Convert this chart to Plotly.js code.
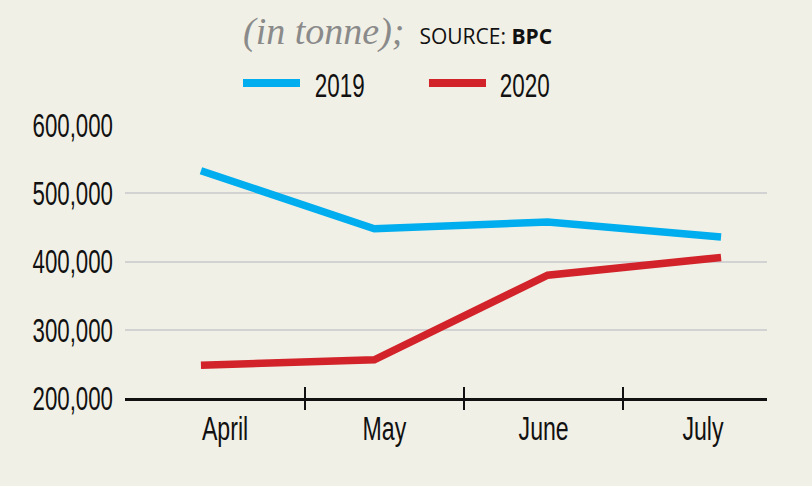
<!DOCTYPE html>
<html>
<head>
<meta charset="utf-8">
<script src="https://cdn.plot.ly/plotly-3.0.1.min.js"></script>
<style>html,body{margin:0;padding:0;background:#f1f0e6;}</style>
</head>
<body>
<div id="chart" style="width:812px;height:486px;"></div>
<script>
const months = ["April", "May", "June", "July"];
const sales2019 = [533000, 448000, 458000, 436000];
const sales2020 = [248000, 256000, 380000, 406000];
const yTicks = [200000, 300000, 400000, 500000, 600000];
const yTickText = ["200,000", "300,000", "400,000", "500,000", "600,000"];
const seriesNames = ["2019", "2020"];
const seriesColors = ["#00aeef", "#d2232a"];

const FONT = "Liberation Sans, Arial, sans-serif";
const FS = 34;
const monthPos = months.map((m, i) => i);
const boundaryPos = months.slice(1).map((m, i) => i + 0.5);
const labelRange = [-0.628, 3.402];

const traces = [
  {x: months, y: sales2019, name: seriesNames[0], type: "scatter", mode: "lines",
   xaxis: "x4", yaxis: "y", line: {color: seriesColors[0], width: 7.5}, showlegend: false},
  {x: months, y: sales2020, name: seriesNames[1], type: "scatter", mode: "lines",
   xaxis: "x4", yaxis: "y", line: {color: seriesColors[1], width: 7.5}, showlegend: false},
  {x: [0], y: [null], xaxis: "x", yaxis: "y", showlegend: false, hoverinfo: "skip", mode: "lines"},
  {x: [0], y: [null], xaxis: "x2", yaxis: "y", showlegend: false, hoverinfo: "skip", mode: "lines"},
  {x: [0], y: [null], xaxis: "x3", yaxis: "y", showlegend: false, hoverinfo: "skip", mode: "lines"}
];

// custom legend (long line keys like the reference)
const legendKeyX = [[0.1838, 0.2726], [0.4735, 0.5623]];
const legendTextX = [0.3349, 0.6238];
const shapes = seriesNames.map((n, i) => ({
  type: "line", xref: "paper", yref: "paper", x0: legendKeyX[i][0], x1: legendKeyX[i][1],
  y0: 1.154, y1: 1.154, line: {color: seriesColors[i], width: 8}
}));
const annotations = seriesNames.map((n, i) => ({
  text: n, xref: "paper", yref: "paper", x: legendTextX[i], y: 1.147,
  xanchor: "center", yanchor: "middle", showarrow: false,
  font: {family: FONT, size: FS, color: "#111"}
}));

const layout = {
  width: 812, height: 486,
  paper_bgcolor: "#f1f0e6", plot_bgcolor: "#f1f0e6",
  margin: {l: 125, r: 45, t: 125, b: 88},
  showlegend: false,
  shapes: shapes,
  annotations: annotations,
  title: {
    text: '<i>(in tonne); </i><span style="font-family:Open Sans, Noto Sans, sans-serif;font-size:21px;font-style:normal;color:#111"> SOURCE: <b>BPC</b></span>',
    font: {family: "Liberation Serif, DejaVu Serif, serif", size: 38, color: "#8a8a8a"},
    xref: "container", yref: "container", x: 243/812, xanchor: "left", y: 1 - 31/486, yanchor: "middle"
  },
  xaxis: {type: "linear", range: labelRange, tickvals: monthPos, ticktext: months, ticks: "",
          showgrid: false, zeroline: false, showline: true, linecolor: "#111", linewidth: 2.5,
          tickfont: {family: FONT, size: FS, color: "#111"}, ticklabelstandoff: -1, fixedrange: true},
  xaxis2: {type: "linear", range: labelRange, overlaying: "x", anchor: "y", tickvals: boundaryPos,
           ticks: "outside", ticklen: 11, tickwidth: 2, tickcolor: "#111", showticklabels: false,
           showgrid: false, zeroline: false, showline: false},
  xaxis3: {type: "linear", range: labelRange, overlaying: "x", anchor: "y", tickvals: boundaryPos,
           ticks: "inside", ticklen: 11, tickwidth: 2, tickcolor: "#111", showticklabels: false,
           showgrid: false, zeroline: false, showline: false},
  xaxis4: {type: "category", categoryarray: months, range: [-0.438, 3.265], overlaying: "x",
           anchor: "y", visible: false},
  yaxis: {range: [200000, 600000], tickvals: yTicks, ticktext: yTickText, ticks: "",
          showgrid: true, gridcolor: "#d2d2d2", gridwidth: 2, zeroline: false, showline: false,
          tickfont: {family: FONT, size: FS, color: "#111"}, ticklabelstandoff: 11, fixedrange: true}
};

function condense(selector, factor) {
  document.querySelectorAll(selector).forEach(t => {
    const w = t.getComputedTextLength();
    if (w > 0) {
      t.setAttribute("textLength", (w * factor).toFixed(1));
      t.setAttribute("lengthAdjust", "spacingAndGlyphs");
    }
  });
}

Plotly.newPlot("chart", traces, layout, {displayModeBar: false, staticPlot: true}).then(() => {
  condense("#chart .ytick text", 0.655);
  condense("#chart .xtick text", 0.68);
  condense("#chart .annotation-text", 0.66);
});
</script>
</body>
</html>
